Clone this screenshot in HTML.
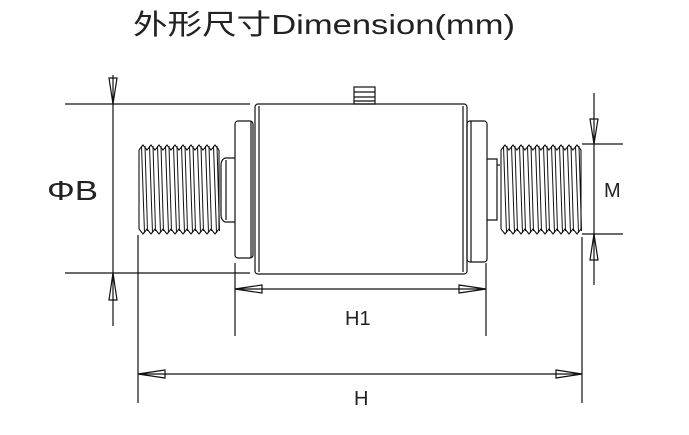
<!DOCTYPE html>
<html><head><meta charset="utf-8"><style>
html,body{margin:0;padding:0;background:#fff;}
svg{display:block}
text{font-family:"Liberation Sans","Noto Sans CJK SC",sans-serif;fill:#222}
</style></head><body>
<svg width="689" height="435" viewBox="0 0 689 435" xmlns="http://www.w3.org/2000/svg">
<defs>
<g id="cr" stroke="#111" stroke-width="1" fill="none">
<path d="M-1.5 146 L1.5 233 M2 146 L4.5 231"/>
</g>
<g id="zz" stroke="#111" stroke-width="1.1" fill="none">
<path d="M0 150 L4 145 L8 150 L12 145 L16 150 L20 145 L24 150 L28 145 L32 150 L36 145 L40 150 L44 145 L48 150 L52 145 L56 150 L60 145 L64 150 L68 145 L72 150 L76 145 L80 150"/>
<path d="M0 229 L4 234 L8 229 L12 234 L16 229 L20 234 L24 229 L28 234 L32 229 L36 234 L40 229 L44 234 L48 229 L52 234 L56 229 L60 234 L64 229 L68 234 L72 229 L76 234 L80 229"/>
<path d="M0 150 L0 229 M80 150 L80 229"/>
</g>
</defs>
<text x="133" y="34" font-size="28" textLength="382" lengthAdjust="spacingAndGlyphs">外形尺寸Dimension(mm)</text>
<g stroke="#111" stroke-width="1.2" fill="none">
<rect x="255" y="104" width="212" height="170" rx="3"/>
<line x1="259" y1="106" x2="259" y2="272"/>
<line x1="463" y1="106" x2="463" y2="272"/>
<rect x="354" y="87" width="21" height="17"/>
<line x1="354" y1="92" x2="375" y2="92"/><line x1="354" y1="97" x2="375" y2="97"/><line x1="354" y1="101" x2="375" y2="101"/>
<rect x="235" y="121" width="18" height="137" rx="3"/>
<line x1="251" y1="121" x2="251" y2="258"/>
<path d="M235 158 L225 158 Q221 160 221 165 L221 215 Q221 220 225 222 L235 222"/>
<line x1="226" y1="160" x2="226" y2="220"/>
<rect x="467" y="121" width="20" height="141" rx="3"/>
<line x1="471" y1="121" x2="471" y2="262"/>
<path d="M487 159 L497 159 L497 220 L487 220"/>
<line x1="497" y1="165" x2="500" y2="165"/>
</g>
<use href="#zz" x="139" y="0"/>
<use href="#zz" x="501" y="0"/>
<use href="#cr" x="143"/><use href="#cr" x="151"/><use href="#cr" x="159"/><use href="#cr" x="167"/><use href="#cr" x="175"/>
<use href="#cr" x="183"/><use href="#cr" x="191"/><use href="#cr" x="199"/><use href="#cr" x="207"/><use href="#cr" x="215"/>
<use href="#cr" x="505"/><use href="#cr" x="513"/><use href="#cr" x="521"/><use href="#cr" x="529"/><use href="#cr" x="537"/>
<use href="#cr" x="545"/><use href="#cr" x="553"/><use href="#cr" x="561"/><use href="#cr" x="569"/><use href="#cr" x="577"/>
<g stroke="#111" stroke-width="1.2" fill="none">
<line x1="113" y1="75" x2="113" y2="326"/>
<line x1="65" y1="104" x2="250" y2="104"/>
<line x1="65" y1="273" x2="250" y2="273"/>
<line x1="235" y1="263" x2="235" y2="336"/>
<line x1="486" y1="263" x2="486" y2="336"/>
<line x1="235" y1="289" x2="486" y2="289"/>
<line x1="138" y1="235" x2="138" y2="403"/>
<line x1="582" y1="237" x2="582" y2="403"/>
<line x1="138" y1="374" x2="582" y2="374"/>
<line x1="594" y1="93" x2="594" y2="285"/>
<line x1="582" y1="144" x2="623" y2="144"/>
<line x1="582" y1="234" x2="623" y2="234"/>
<polygon points="113,104 109,78 117,78"/>
<polygon points="113,273 109,300 117,300"/>
<polygon points="235,289 262,285 262,293"/>
<polygon points="486,289 459,285 459,293"/>
<polygon points="138,374 165,370 165,378"/>
<polygon points="582,374 556,370 556,378"/>
<polygon points="594,144 590,119 598,119"/>
<polygon points="594,234 590,260 598,260"/>
</g>
<text x="47" y="200" font-size="28" textLength="51" lengthAdjust="spacingAndGlyphs">ΦB</text>
<text x="604" y="197" font-size="20">M</text>
<text x="345" y="325" font-size="20">H1</text>
<text x="354" y="405" font-size="20">H</text>
</svg>
</body></html>
